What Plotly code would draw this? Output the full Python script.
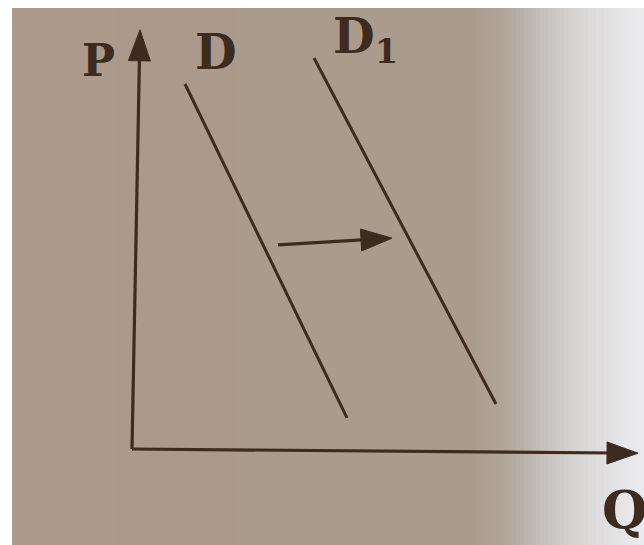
import numpy as np
import plotly.graph_objects as go

# ---- data (chart units: Q horizontal, P vertical) ----
d_q = [1.06, 4.30]
d_p = [8.69, 0.74]
d1_q = [3.64, 7.28]
d1_p = [9.31, 1.07]
shift_q = [2.92, 5.20]
shift_p = [4.86, 5.02]
q_axis_q = [0.0, 10.12]
q_axis_p = [0.0, -0.10]
p_axis_q = [0.0, 0.16]
p_axis_p = [0.0, 9.98]

label_text = ["P", "D", "D<sub>1</sub>", "Q"]
label_q = [-0.68, 1.68, 4.66, 9.84]
label_p = [9.26, 9.45, 9.75, -1.45]
label_size = [44, 48, 48, 52]

# ---- layout / style ----
W, H = 644, 545
XR = [-2.64, 10.24]
YR = [-2.2857, 10.690]
SX = W / (XR[1] - XR[0])
SY = H / (YR[1] - YR[0])
INK = "#3d2b1f"
LW = 3.2
HEAD_L, HEAD_W = 31, 22

fig = go.Figure()

# paper background gradient (photo of a page)
bg_stops_x = [0, 470, 510, 540, 570, 610, 644]
bg_stops_c = [(172, 154, 138), (170, 155, 140), (178, 168, 158), (196, 190, 186),
              (212, 209, 208), (226, 225, 226), (236, 236, 238)]
shapes = []
step = 4
for x0 in range(12, W, step):
    xm = x0 + step / 2
    c = [np.interp(xm, bg_stops_x, [s[i] for s in bg_stops_c]) for i in range(3)]
    col = "rgb(%d,%d,%d)" % tuple(int(round(v)) for v in c)
    shapes.append(dict(type="rect", xref="paper", yref="paper", layer="below",
                       x0=x0 / W, x1=min(x0 + step + 1, W) / W, y0=0, y1=1 - 8 / H,
                       line=dict(width=0), fillcolor=col))


def arrow(qs, ps):
    """line with a filled arrowhead at the last point"""
    dx = (qs[1] - qs[0]) * SX
    dy = (ps[1] - ps[0]) * SY
    n = np.hypot(dx, dy)
    ux, uy = dx / n, dy / n
    bx = -ux * HEAD_L
    by = -uy * HEAD_L
    nx, ny = -uy * HEAD_W / 2, ux * HEAD_W / 2
    tip = (qs[1], ps[1])
    base = (qs[1] + bx / SX, ps[1] + by / SY)
    c1 = (base[0] + nx / SX, base[1] + ny / SY)
    c2 = (base[0] - nx / SX, base[1] - ny / SY)
    fig.add_trace(go.Scatter(x=[qs[0], base[0] + 0.3 * HEAD_L * ux / SX],
                             y=[ps[0], base[1] + 0.3 * HEAD_L * uy / SY],
                             mode="lines", line=dict(color=INK, width=LW),
                             hoverinfo="skip", showlegend=False))
    fig.add_trace(go.Scatter(x=[tip[0], c1[0], c2[0], tip[0]], y=[tip[1], c1[1], c2[1], tip[1]],
                             mode="lines", fill="toself", fillcolor=INK,
                             line=dict(color=INK, width=1),
                             hoverinfo="skip", showlegend=False))


# demand curves
for qs, ps in [(d_q, d_p), (d1_q, d1_p)]:
    fig.add_trace(go.Scatter(x=qs, y=ps, mode="lines",
                             line=dict(color=INK, width=3.0),
                             hoverinfo="skip", showlegend=False))

# axes and shift arrow
fig.add_trace(go.Scatter(x=[p_axis_q[0], q_axis_q[0]], y=[p_axis_p[0], q_axis_p[0]], mode="lines",
                         line=dict(color=INK, width=LW), showlegend=False, hoverinfo="skip"))
arrow(p_axis_q, p_axis_p)
arrow(q_axis_q, q_axis_p)
arrow(shift_q, shift_p)

annotations = []
for t, q, p, s in zip(label_text, label_q, label_p, label_size):
    annotations.append(dict(x=q, y=p, xref="x", yref="y", text="<b>%s</b>" % t, showarrow=False,
                            xanchor="center", yanchor="middle",
                            font=dict(family="DejaVu Serif", size=s, color=INK)))

fig.update_layout(
    width=W, height=H,
    margin=dict(l=0, r=0, t=0, b=0),
    paper_bgcolor="white", plot_bgcolor="rgba(0,0,0,0)",
    xaxis=dict(range=XR, visible=False, fixedrange=True),
    yaxis=dict(range=YR, visible=False, fixedrange=True),
    shapes=shapes, annotations=annotations,
    showlegend=False,
)

fig.write_html("out.html", config={"displayModeBar": False},
               post_script="document.body.style.margin='0';document.body.style.overflow='hidden';")
